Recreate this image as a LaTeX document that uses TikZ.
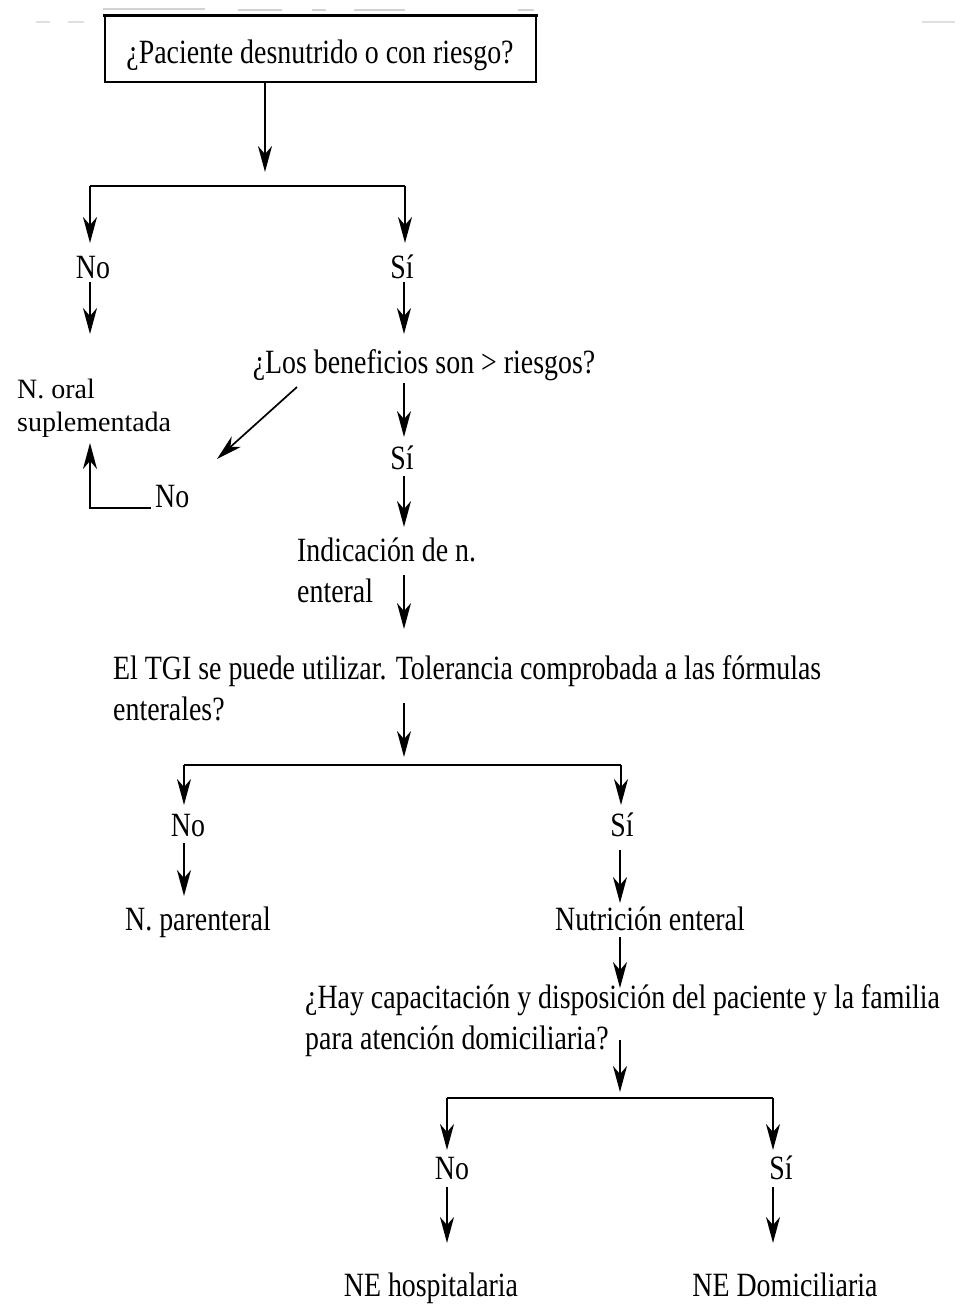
\documentclass[tikz,border=0pt]{standalone}
\usepackage{fontspec}
\setmainfont{Liberation Serif}[FakeStretch=0.82]
\newfontfamily\plainserif{Liberation Serif}
\usetikzlibrary{arrows.meta}
\begin{document}
\begin{tikzpicture}[x=1pt,y=-1pt,
  lbl/.style={inner sep=0pt, font=\fontsize{34}{41}\selectfont, text=black},
  small/.style={inner sep=0pt, font=\plainserif\fontsize{28}{33}\selectfont, text=black},
  arr/.style={-{Stealth[length=26pt,width=14pt,inset=8pt]}, line width=1.7pt},
  ln/.style={line width=1.7pt},
  faint/.style={draw=gray!35, line width=2.5pt}]
\useasboundingbox (0,0) rectangle (962,1304);

% faint marks along the top edge
\draw[faint] (103,9) -- (205,9);
\draw[faint] (238,10) -- (282,10);
\draw[faint] (312,10) -- (326,10);
\draw[faint] (354,10) -- (405,10);
\draw[faint] (518,10) -- (534,10);
\draw[draw=gray!25, line width=1.5pt] (36,22) -- (50,22) (68,22) -- (84,22) (922,22) -- (955,22);

% start box
\node[draw, line width=1.7pt, minimum width=431pt, minimum height=67pt, inner sep=0pt]
  (start) at (320.5,48.5) {};
\draw[line width=3pt] (103,15) -- (538,15);
\node[lbl, anchor=base] (q1) at (320,63) {¿Paciente desnutrido o con riesgo?};

% first branch
\coordinate (s1) at (265,82);
\coordinate (s1e) at (265,172);
\draw[arr] (s1) -- (s1e);
\coordinate (j1) at (265,186);
\coordinate (no1t) at (90,243);
\coordinate (si1t) at (405,243);
\draw[ln] (j1) -- (90,186);
\draw[ln] (j1) -- (405,186);
\draw[arr] (90,186) -- (no1t);
\draw[arr] (405,186) -- (si1t);
\node[lbl, anchor=base] (no1) at (93,278) {No};
\node[lbl, anchor=base] (si1) at (402,278) {Sí};
\coordinate (no1a) at (90,282);  \coordinate (no1b) at (90,334);
\coordinate (si1a) at (404,282); \coordinate (si1b) at (404,334);
\draw[arr] (no1a) -- (no1b);
\draw[arr] (si1a) -- (si1b);

% benefits question
\node[lbl, anchor=base] (q2) at (424,373) {¿Los beneficios son > riesgos?};
\node[small, anchor=base west] (oral1) at (17,398) {N. oral};
\node[small, anchor=base west] (oral2) at (17,431) {suplementada};
\coordinate (d1) at (297,387); \coordinate (d2) at (217,459);
\draw[arr] (d1) -- (d2);
\coordinate (si2a) at (404,383); \coordinate (si2b) at (404,437);
\draw[arr] (si2a) -- (si2b);
\node[lbl, anchor=base] (si2) at (402,469) {Sí};
\coordinate (si2c) at (404,476); \coordinate (si2d) at (404,527);
\draw[arr] (si2c) -- (si2d);
\node[lbl, anchor=base west] (no2) at (155,507) {No};
\coordinate (no2a) at (151,508); \coordinate (no2b) at (90,443);
\draw[arr] (no2a) -| (no2b);

% enteral indication
\node[lbl, anchor=base west] (ind1) at (297,561) {Indicación de n.};
\node[lbl, anchor=base west] (ind2) at (297,602) {enteral};
\coordinate (i1) at (404,575); \coordinate (i2) at (404,629);
\draw[arr] (i1) -- (i2);

% GI tract question
\node[lbl, anchor=base west] (q3a) at (113,679) {El TGI se puede utilizar. Tolerancia comprobada a las fórmulas};
\node[lbl, anchor=base west] (q3b) at (113,720) {enterales?};
\coordinate (t1) at (404,703); \coordinate (t2) at (404,757);
\draw[arr] (t1) -- (t2);
\coordinate (j2) at (404,765);
\draw[ln] (184,765) -- (621,765);
\coordinate (no3t) at (184,805); \coordinate (si3t) at (621,805);
\draw[arr] (184,765) -- (no3t);
\draw[arr] (621,765) -- (si3t);
\node[lbl, anchor=base] (no3) at (188,836) {No};
\node[lbl, anchor=base] (si3) at (622,836) {Sí};
\coordinate (no3a) at (184,843); \coordinate (no3b) at (184,896);
\coordinate (si3a) at (620,850); \coordinate (si3b) at (620,903);
\draw[arr] (no3a) -- (no3b);
\draw[arr] (si3a) -- (si3b);
\node[lbl, anchor=base] (par) at (198,930) {N. parenteral};
\node[lbl, anchor=base] (ent) at (650,930) {Nutrición enteral};
\coordinate (e1) at (620,937); \coordinate (e2) at (620,988);
\draw[arr] (e1) -- (e2);

% home care question
\node[lbl, anchor=base west] (q4a) at (305,1008) {¿Hay capacitación y disposición del paciente y la familia};
\node[lbl, anchor=base west] (q4b) at (305,1049) {para atención domiciliaria?};
\coordinate (h1) at (620,1040); \coordinate (h2) at (620,1092);
\draw[arr] (h1) -- (h2);
\draw[ln] (447,1098) -- (773,1098);
\coordinate (no4t) at (447,1150); \coordinate (si4t) at (773,1150);
\draw[arr] (447,1098) -- (no4t);
\draw[arr] (773,1098) -- (si4t);
\node[lbl, anchor=base] (no4) at (452,1179) {No};
\node[lbl, anchor=base] (si4) at (781,1179) {Sí};
\coordinate (no4a) at (447,1187); \coordinate (no4b) at (447,1243);
\coordinate (si4a) at (773,1187); \coordinate (si4b) at (773,1243);
\draw[arr] (no4a) -- (no4b);
\draw[arr] (si4a) -- (si4b);
\node[lbl, anchor=base] (neh) at (431,1296) {NE hospitalaria};
\node[lbl, anchor=base] (ned) at (785,1296) {NE Domiciliaria};
\end{tikzpicture}
\end{document}
